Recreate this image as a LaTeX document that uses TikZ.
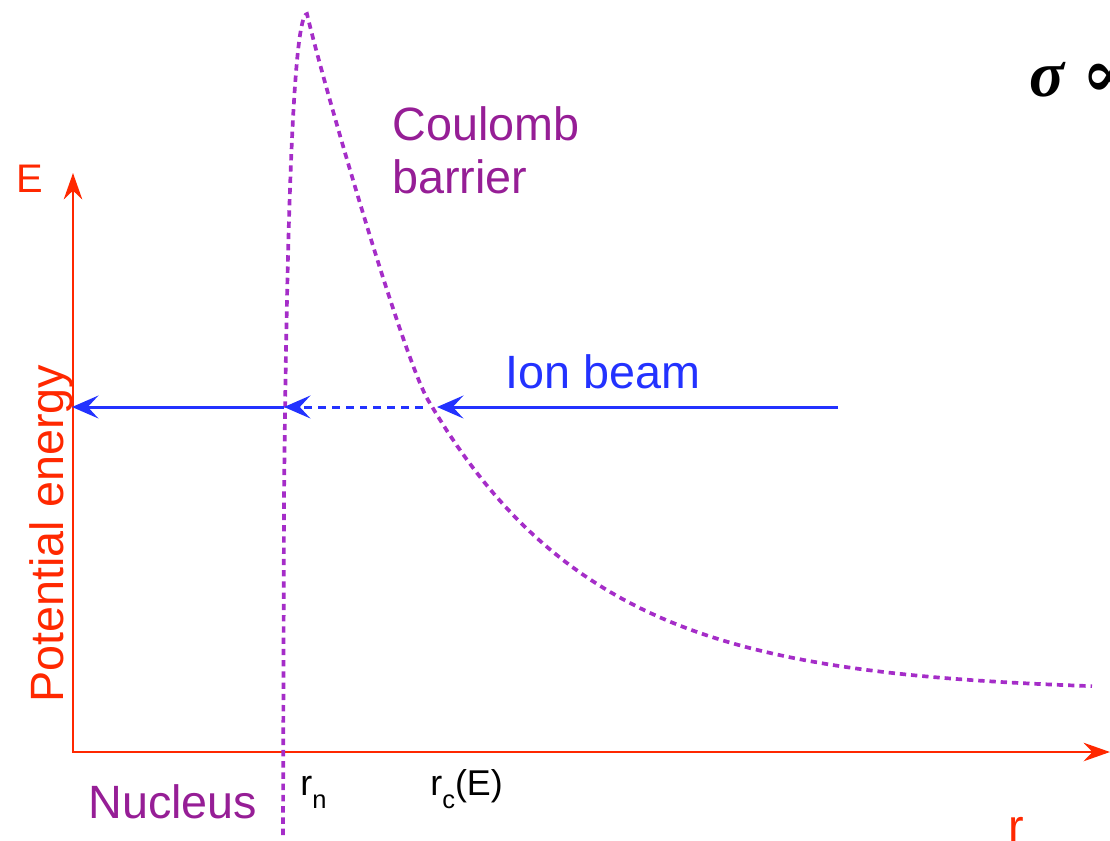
\documentclass[tikz,border=0pt]{standalone}
\usepackage{fontspec}
\setmainfont{Liberation Sans}
\newfontfamily\sigmafont{Liberation Serif}
\newfontfamily\propfont{DejaVu Serif}
\usetikzlibrary{arrows.meta}
\definecolor{axisred}{RGB}{255,40,0}
\definecolor{labpurple}{RGB}{150,30,150}
\definecolor{curvepurple}{RGB}{165,45,200}
\definecolor{beamblue}{RGB}{35,50,255}
\begin{document}
\begin{tikzpicture}[x=0.02cm,y=-0.02cm,
  axisline/.style={draw=axisred, line width=1.6pt, {Stealth[length=15pt,width=10.5pt,inset=5pt]}-{Stealth[length=15pt,width=10.5pt,inset=5pt]}},
  beam/.style={draw=beamblue, line width=1.7pt, -{Stealth[length=15pt,width=13pt,inset=6pt]}},
  beamdash/.style={beam, dash pattern=on 4.5pt off 3.4pt},
  barrier/.style={draw=curvepurple, line width=2.1pt, dash pattern=on 3.6pt off 2.8pt},
  txt/.style={inner sep=0pt, anchor=base west},
  big/.style={txt, font=\fontsize{26.6}{30}\selectfont},
  lab/.style={txt, font=\fontsize{20.4}{24}\selectfont}]
\useasboundingbox (0,0) rectangle (1110,840);
% axes
\coordinate (ytop) at (73,173);
\coordinate (origin) at (73,752);
\coordinate (xend) at (1110,752);
\draw[axisline] (ytop) -- (origin) -- (xend);
% Coulomb barrier
\coordinate (bbottom) at (283,835);
\coordinate (bleft) at (284,500);
\coordinate (peak) at (307,14);
\coordinate (rc) at (428,400);
\draw[barrier] (bbottom) -- (bleft) .. controls (287,200) and (294,14) .. (peak)
  .. controls (325,90) and (403,357) .. (rc)
  -- plot[domain=428:1092, samples=70] (\x, {692-292*exp(-(\x-428)/170)});
% ion beam
\coordinate (beamstart) at (838,407);
\coordinate (cross) at (437,407);
\coordinate (dashstart) at (423,407);
\coordinate (nuc) at (284,407);
\coordinate (axishit) at (72,407);
\draw[beam] (beamstart) -- (cross);
\draw[beamdash] (dashstart) -- (nuc);
\draw[beam] (nuc) -- (axishit);
% labels
\node[big, text=labpurple] (coul) at (392,140) {Coulomb};
\node[big, text=labpurple] (barr) at (392,193) {barrier};
\node[big, text=beamblue] (ion) at (505,388) {Ion beam};
\node[big, text=labpurple] (nucl) at (88,818) {Nucleus};
\node[big, text=axisred, rotate=90] (pe) at (63,703) {Potential energy};
\node[txt, font=\fontsize{22.7}{26}\selectfont, text=axisred] (E) at (16,192) {E};
\node[big, text=axisred] (r) at (1008,842) {r};
\node[lab] (rn) at (300,795) {r\raisebox{-0.38em}{\fontsize{14.5}{16}\selectfont n}};
\node[lab] (rcl) at (430,795) {r\raisebox{-0.38em}{\fontsize{14.5}{16}\selectfont c}(E)};
\node[txt, font=\fontsize{37}{42}\selectfont] (sig) at (1029,96) {{\sigmafont\bfseries\itshape σ}\hspace{0.28em}{\propfont\bfseries ∝}};
\end{tikzpicture}
\end{document}
